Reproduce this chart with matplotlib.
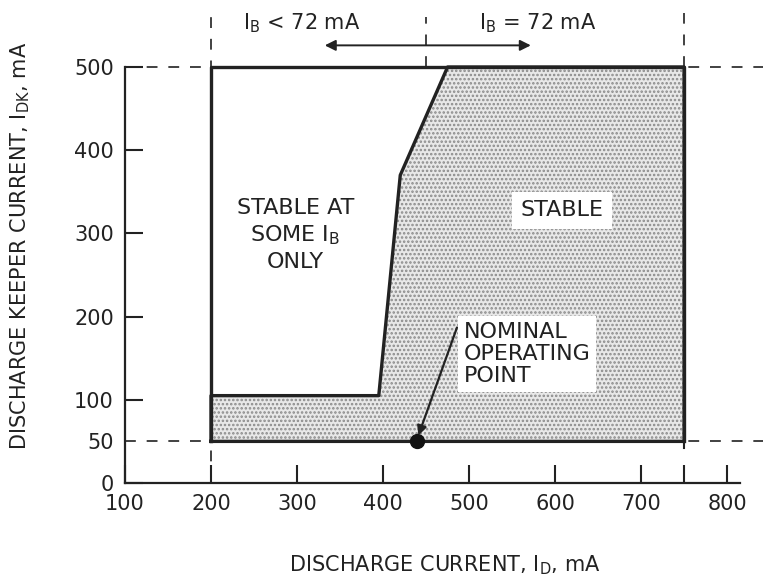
import matplotlib
matplotlib.use("Agg")
import matplotlib.pyplot as plt

plt.rcParams['font.family'] = ['DejaVu Sans']
plt.rcParams['hatch.color'] = '#7a7a7a'
plt.rcParams['hatch.linewidth'] = 1.2

# stable region boundary (I_D, I_DK), mA
stable_x = [200, 200, 395, 420, 475, 750, 750]
stable_y = [50, 105, 105, 370, 500, 500, 50]
# outer test envelope
box_x = [200, 200, 750, 750]
box_y = [50, 500, 500, 50]
nominal_x, nominal_y = 440, 50
ib_split = 450

xticks = [100, 200, 300, 400, 500, 600, 700, 800]
yticks = [0, 50, 100, 200, 300, 400, 500]
ytick_labels = ['0', '50', '100', '200', '300', '400', '500']

fig = plt.figure(figsize=(7.63, 5.86), dpi=100)
ax = fig.add_axes([125/763, 103/586, 640/763, 570*0.832/586])
ax.set_xlim(100, 844)
ax.set_ylim(0, 570)

# dashed guide lines
dash = dict(color='#333333', lw=1.3, ls=(0, (6, 6)), clip_on=False, zorder=1)
ax.plot([100, 844], [500, 500], **dash)
ax.plot([100, 844], [50, 50], **dash)
ax.plot([200, 200], [0, 565], **dash)
ax.plot([750, 750], [500, 565], **dash)
ax.plot([ib_split, ib_split], [500, 560], **dash)
ax.plot([750, 750], [50, 42], color='#222', lw=1.5)

# shaded stable region
ax.fill(stable_x, stable_y, facecolor='#e8e8e8', hatch='....', edgecolor='#8a8a8a',
        lw=0, zorder=2)
ax.plot(stable_x + [stable_x[0]], stable_y + [stable_y[0]], color='#222', lw=2.4, zorder=3)
ax.plot(box_x, box_y, color='#222', lw=2.4, zorder=3)

# nominal point
ax.plot(nominal_x, nominal_y, 'o', color='#111', ms=10, zorder=5)
ax.annotate('', xy=(nominal_x, nominal_y + 4), xytext=(487, 190),
            arrowprops=dict(arrowstyle='-|>', color='#222', lw=1.6, mutation_scale=14),
            zorder=5)

fs = 15
ax.text(298, 298, 'STABLE AT\nSOME I$_\\mathregular{B}$\nONLY', ha='center', va='center',
        fontsize=16, linespacing=1.3, color='#222', zorder=4)
ax.text(608, 328, 'STABLE', ha='center', va='center', fontsize=16, color='#222', zorder=4,
        bbox=dict(facecolor='white', edgecolor='none', pad=6))
ax.text(494, 155, 'NOMINAL\nOPERATING\nPOINT', ha='left', va='center', fontsize=16,
        color='#222', linespacing=1.15, zorder=4,
        bbox=dict(facecolor='white', edgecolor='none', pad=4))

# I_B regime labels
ax.text(305, 553, 'I$_\\mathregular{B}$ < 72 mA', ha='center', va='center', fontsize=fs,
        color='#222')
ax.text(580, 553, 'I$_\\mathregular{B}$ = 72 mA', ha='center', va='center', fontsize=fs,
        color='#222')
ax.annotate('', xy=(329, 526), xytext=(575, 526),
            arrowprops=dict(arrowstyle='<|-|>', color='#222', lw=1.4, mutation_scale=16))

# axes styling
for s in ['top', 'right']:
    ax.spines[s].set_visible(False)
ax.spines['left'].set_bounds(0, 500)
ax.spines['bottom'].set_bounds(100, 815)
for s in ['left', 'bottom']:
    ax.spines[s].set_linewidth(1.6)
    ax.spines[s].set_color('#222')
ax.set_xticks(xticks + [750])
ax.set_xticklabels([str(v) for v in xticks] + [''])
ax.set_yticks(yticks)
ax.set_yticklabels(ytick_labels)
ax.tick_params(direction='in', length=13, width=1.5, color='#222', labelsize=fs,
               labelcolor='#222', pad=8)
ax.yaxis.get_major_ticks()[1].tick1line.set_visible(False)

ax.set_xlabel('DISCHARGE CURRENT, I$_\\mathregular{D}$, mA', fontsize=15, color='#222',
              labelpad=28)
ax.set_ylabel('DISCHARGE KEEPER CURRENT, I$_\\mathregular{DK}$, mA', fontsize=15,
              color='#222', labelpad=30)

fig.savefig('out.png', dpi=100)
